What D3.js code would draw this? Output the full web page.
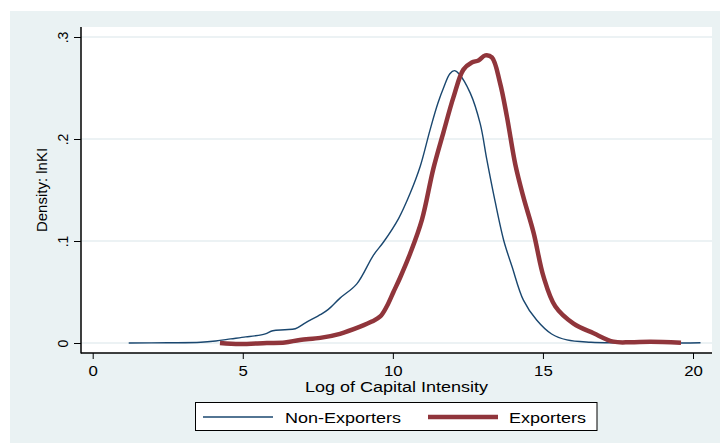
<!DOCTYPE html>
<html>
<head>
<meta charset="utf-8">
<script src="https://cdn.jsdelivr.net/npm/d3@7"></script>
<style>
  html, body { margin: 0; padding: 0; background: #ffffff; }
  svg { display: block; }
  text { font-family: "Liberation Sans", Arial, sans-serif; fill: #000; }
</style>
</head>
<body>
<svg id="chart" width="720" height="443"></svg>
<script>
// ---- data ----
const nonExpX = [1.2, 2.5, 3.6, 4.1, 4.6, 5.1, 5.4, 5.75, 6.0, 6.4, 6.75, 7.1, 7.6, 7.85, 8.24, 8.8, 9.35, 9.69, 10.19, 10.58, 10.91, 11.24, 11.5, 11.7, 11.9, 12.05, 12.2, 12.58, 12.91, 13.13, 13.35, 13.69, 13.97, 14.35, 14.79, 15.29, 15.8, 16.6, 17.5, 19.6, 20.25];
const nonExpY = [0, 0.0002, 0.0007, 0.002, 0.004, 0.006, 0.007, 0.009, 0.012, 0.013, 0.014, 0.020, 0.028, 0.033, 0.044, 0.058, 0.086, 0.099, 0.122, 0.147, 0.173, 0.209, 0.235, 0.251, 0.264, 0.267, 0.264, 0.245, 0.215, 0.180, 0.147, 0.101, 0.075, 0.042, 0.0225, 0.0088, 0.003, 0.0008, 0.0002, 0, 0.0003];

const expX = [4.24, 4.9, 5.8, 6.4, 6.9, 7.58, 8.24, 8.91, 9.3, 9.58, 9.8, 10.02, 10.24, 10.58, 10.97, 11.35, 11.69, 12.02, 12.35, 12.63, 12.85, 13.08, 13.3, 13.57, 13.8, 14.08, 14.35, 14.69, 15.02, 15.41, 16.02, 16.69, 17.35, 17.91, 18.58, 19.6];
const expY = [0, -0.001, 0, 0.0005, 0.003, 0.005, 0.009, 0.016, 0.021, 0.026, 0.036, 0.050, 0.064, 0.088, 0.121, 0.171, 0.207, 0.241, 0.268, 0.275, 0.277, 0.282, 0.280, 0.255, 0.222, 0.175, 0.143, 0.108, 0.065, 0.036, 0.019, 0.0095, 0.0013, 0.0007, 0.0013, 0.0003];

const xTicks = [0, 5, 10, 15, 20];
const xTickLabels = ["0", "5", "10", "15", "20"];
const yTicks = [0, 0.1, 0.2, 0.3];
const yTickLabels = ["0", ".1", ".2", ".3"];
const seriesNames = ["Non-Exporters", "Exporters"];
const xTitle = "Log of Capital Intensity";
const yTitle = "Density: lnKI";

// ---- styling ----
const bg = "#eaf2f3";
const gridCol = "#e6eef0";
const blue = "#1a476f";
const red = "#90353b";
const SX = 1.2; // horizontal stretch of text in the reference

const svg = d3.select("#chart");

// outer background
svg.append("rect").attr("x", 10).attr("y", 11).attr("width", 710).attr("height", 432).attr("fill", bg);

const plot = { left: 81, right: 712, top: 27, bottom: 353 };
svg.append("rect").attr("x", plot.left).attr("y", plot.top)
  .attr("width", plot.right - plot.left).attr("height", plot.bottom - plot.top).attr("fill", "#fff");

const x = d3.scaleLinear().domain([0, 20]).range([92.7, 693]);
const y = d3.scaleLinear().domain([0, 0.3]).range([343, 37]);

// gridlines
svg.append("g").selectAll("line").data(yTicks).join("line")
  .attr("x1", plot.left).attr("x2", plot.right)
  .attr("y1", d => y(d)).attr("y2", d => y(d))
  .attr("stroke", gridCol).attr("stroke-width", 1.5);

// x axis
const xAxis = svg.append("g").attr("transform", `translate(0,${plot.bottom})`)
  .call(d3.axisBottom(x).tickValues(xTicks).tickSize(6).tickFormat((d, i) => xTickLabels[i]));
xAxis.select(".domain").remove();
xAxis.selectAll(".tick line").attr("stroke", "#000").attr("stroke-width", 1);
xAxis.selectAll(".tick text")
  .attr("y", 0).attr("dy", null)
  .attr("transform", `translate(0,22.7) scale(${SX},1)`)
  .style("font-size", "14px").style("font-family", '"Liberation Sans", Arial, sans-serif');

// y axis
const yAxis = svg.append("g").attr("transform", `translate(${plot.left},0)`)
  .call(d3.axisLeft(y).tickValues(yTicks).tickSize(7).tickFormat((d, i) => yTickLabels[i]));
yAxis.select(".domain").remove();
yAxis.selectAll(".tick line").attr("stroke", "#000").attr("stroke-width", 1);
yAxis.selectAll(".tick text")
  .attr("x", 0).attr("dy", null).attr("text-anchor", "middle")
  .attr("transform", "translate(-13,0) rotate(-90)")
  .style("font-size", "14px").style("font-family", '"Liberation Sans", Arial, sans-serif');

// axis lines
svg.append("line").attr("x1", plot.left).attr("x2", plot.left).attr("y1", plot.top).attr("y2", plot.bottom + 0.5)
  .attr("stroke", "#000").attr("stroke-width", 1.5);
svg.append("line").attr("x1", plot.left).attr("x2", plot.right).attr("y1", plot.bottom).attr("y2", plot.bottom)
  .attr("stroke", "#000").attr("stroke-width", 1.5);

// curves
const line = d3.line().x(d => x(d[0])).y(d => y(d[1])).curve(d3.curveCatmullRom.alpha(0.5));
const nonExp = nonExpX.map((v, i) => [v, nonExpY[i]]);
const exp = expX.map((v, i) => [v, expY[i]]);

svg.append("path").datum(nonExp).attr("d", line)
  .attr("fill", "none").attr("stroke", blue).attr("stroke-width", 1.4);
svg.append("path").datum(exp).attr("d", line)
  .attr("fill", "none").attr("stroke", red).attr("stroke-width", 4.5)
  .attr("stroke-linejoin", "round").attr("stroke-linecap", "butt");

// titles
svg.append("text").attr("transform", `translate(396.5,391.5) scale(${SX},1)`)
  .attr("text-anchor", "middle").style("font-size", "15px").text(xTitle);
svg.append("text").attr("transform", "translate(47,190) rotate(-90)")
  .attr("text-anchor", "middle").style("font-size", "15px").text(yTitle);

// legend
svg.append("rect").attr("x", 195.5).attr("y", 402.5).attr("width", 401.5).attr("height", 28)
  .attr("fill", "#fff").attr("stroke", "#000").attr("stroke-width", 1);
const legendItems = [
  { name: seriesNames[0], color: blue, w: 1.4, x1: 203, x2: 273, tx: 285 },
  { name: seriesNames[1], color: red, w: 4.5, x1: 428, x2: 498, tx: 509 }
];
legendItems.forEach(it => {
  svg.append("line").attr("x1", it.x1).attr("x2", it.x2).attr("y1", 417).attr("y2", 417)
    .attr("stroke", it.color).attr("stroke-width", it.w);
  svg.append("text").attr("transform", `translate(${it.tx},422.5) scale(${SX},1)`)
    .style("font-size", "15px").text(it.name);
});
</script>
</body>
</html>
